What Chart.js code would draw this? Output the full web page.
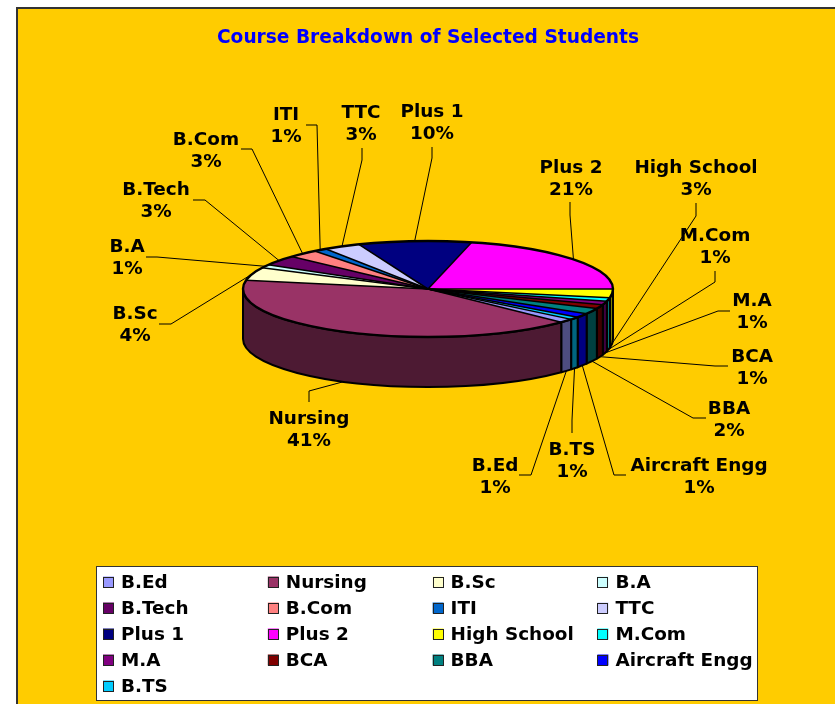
<!DOCTYPE html>
<html>
<head>
<meta charset="utf-8">
<style>
html,body{margin:0;padding:0;background:#fff;width:835px;height:704px;overflow:hidden}
#frame{position:absolute;left:16px;top:7px;width:900px;height:800px;background:#FFCC00;border:2px solid #333;box-sizing:border-box}
#wrap{position:absolute;left:0;top:0;width:835px;height:704px}
</style>
</head>
<body>
<div id="frame"></div>
<div id="wrap"><canvas id="c" width="835" height="704"></canvas></div>
<script src="https://cdn.jsdelivr.net/npm/chart.js@4"></script>
<script>
const categories = ["B.Ed","Nursing","B.Sc","B.A","B.Tech","B.Com","ITI","TTC","Plus 1","Plus 2","High School","M.Com","M.A","BCA","BBA","Aircraft Engg","B.TS"];
const shares = [1.3,40.7,4.4,1.1,3.4,2.7,1.2,3.2,9.9,21.2,2.9,1.2,1.2,1.4,1.9,1.4,0.9];
const sliceColors = ["#9999FF","#993366","#FFFFCC","#CCFFFF","#660066","#FF8080","#0066CC","#CCCCFF","#000080","#FF00FF","#FFFF00","#00FFFF","#800080","#800000","#008080","#0000FF","#00CCFF"];
const wallColors = ["#4D4D80","#4D1A33","#808066","#668080","#330033","#804040","#003366","#666680","#000040","#800080","#808000","#008080","#400040","#400000","#004040","#000080","#006680"];
const chartTitle = "Course Breakdown of Selected Students";

// layout: label centre x, first-line y, leader start, optional elbow
const labelCentreX = [495,309,135,127,156,206,286,361,432,571,696,715,752,752,729,699,572];
const labelLineY   = [466,419,314,247,190,140,115,113,112,168,168,236,301,357,409,466,450];
const leaderFrom = [[519,475],[309,402],[159,324],[146,257],[193,200],[241,149],[306,125],[362,148],[432,147],[570,202],[696,203],[715,271],[730,311],[728,366],[706,418],[626,475],[572,433]];
const leaderVia  = [[531,475],[309,391],[171,324],[157,257],[205,200],[252,149],[317,125],[362,160],[432,158],[570,215],[696,216],[715,282],[718,311],[715,366],[693,418],[614,475],[572,420]];

const CX = 428, CY = 289, RX = 185, RY = 48, DEPTH = 50;
const FONT = "bold 18.4px 'DejaVu Sans'";
const total = shares.reduce((a,b)=>a+b,0);
const TAU = Math.PI*2;

const pie3d = {
  id:'pie3d',
  beforeDatasetDraw(chart,args){
    const ctx = chart.ctx, arcs = args.meta.data;
    ctx.save();
    ctx.strokeStyle='#000'; ctx.lineWidth=2; ctx.lineJoin='round';
    arcs.forEach((a,i)=>{
      [0,-TAU].forEach(k=>{
        const s=Math.max(a.startAngle+k,0), e=Math.min(a.endAngle+k,Math.PI);
        if(e<=s) return;
        ctx.beginPath();
        ctx.ellipse(CX,CY,RX,RY,0,s,e);
        ctx.ellipse(CX,CY+DEPTH,RX,RY,0,e,s,true);
        ctx.closePath();
        ctx.fillStyle=wallColors[i];
        ctx.fill(); ctx.stroke();
      });
    });
    ctx.restore();
    const a0 = arcs[0];
    ctx.save();
    ctx.translate(CX,CY);
    ctx.scale(RX/a0.outerRadius,RY/a0.outerRadius);
    ctx.translate(-a0.x,-a0.y);
  },
  afterDatasetDraw(chart,args){
    const ctx = chart.ctx, arcs = args.meta.data;
    ctx.restore();
    ctx.save();
    ctx.strokeStyle='#000'; ctx.lineJoin='round';
    ctx.lineWidth=1.5;
    arcs.forEach(a=>{
      ctx.beginPath();
      ctx.moveTo(CX+RX*Math.cos(a.startAngle),CY+RY*Math.sin(a.startAngle));
      ctx.lineTo(CX,CY);
      ctx.stroke();
    });
    ctx.lineWidth=2.4;
    ctx.beginPath();
    ctx.ellipse(CX,CY,RX,RY,0,0,TAU);
    ctx.stroke();
    ctx.restore();
  },
  afterDraw(chart){
    const ctx = chart.ctx, arcs = chart.getDatasetMeta(0).data;
    ctx.save();
    // leaders
    ctx.strokeStyle='#000'; ctx.lineWidth=1;
    arcs.forEach((a,i)=>{
      const m=(a.startAngle+a.endAngle)/2, sin=Math.sin(m);
      const ax=CX+RX*Math.cos(m), ay=CY+RY*sin+(sin>0?DEPTH:0);
      ctx.beginPath();
      ctx.moveTo(leaderFrom[i][0],leaderFrom[i][1]);
      ctx.lineTo(leaderVia[i][0],leaderVia[i][1]);
      ctx.lineTo(ax,ay);
      ctx.stroke();
    });
    // data labels
    ctx.font=FONT; ctx.fillStyle='#000'; ctx.textAlign='center'; ctx.textBaseline='middle';
    categories.forEach((c,i)=>{
      ctx.fillText(c,labelCentreX[i],labelLineY[i]);
      ctx.fillText(Math.round(shares[i]/total*100)+'%',labelCentreX[i],labelLineY[i]+22.5);
    });
    // legend
    ctx.fillStyle='#fff'; ctx.strokeStyle='#333'; ctx.lineWidth=1;
    ctx.fillRect(97,567,660,134); ctx.strokeRect(96.5,566.5,661,134);
    ctx.textAlign='left';
    categories.forEach((c,i)=>{
      const col=i%4,row=Math.floor(i/4);
      const x=103+col*164.8, y=582+row*26;
      ctx.fillStyle=sliceColors[i];
      ctx.fillRect(x,y-5.5,11,11);
      ctx.strokeStyle='#222';
      ctx.strokeRect(Math.round(x)+0.5,Math.round(y-5.5)+0.5,10,10);
      ctx.fillStyle='#000';
      ctx.fillText(c,x+18,y+1);
    });
    ctx.restore();
  }
};

new Chart(document.getElementById('c'),{
  type:'pie',
  data:{labels:categories,datasets:[{data:shares,backgroundColor:sliceColors,borderWidth:0,clip:false}]},
  options:{
    responsive:false,animation:false,events:[],
    rotation:129.24,radius:185,
    layout:{padding:{left:21,bottom:170}},
    plugins:{
      legend:{display:false},tooltip:{enabled:false},
      title:{display:true,text:chartTitle,color:'#0000FF',font:{family:"'DejaVu Sans'",weight:'bold',size:18.6},padding:{top:27,bottom:0}}
    }
  },
  plugins:[pie3d]
});
</script>
</body>
</html>
